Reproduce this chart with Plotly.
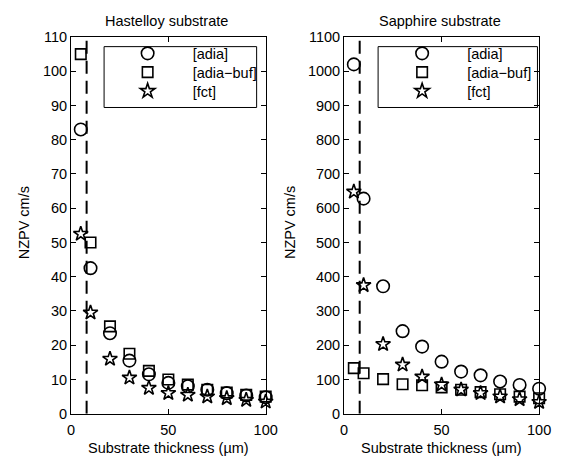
import plotly.graph_objects as go

thickness = [5, 10, 20, 30, 40, 50, 60, 70, 80, 90, 100]

hast_adia = [83, 42.5, 23.5, 15.5, 11.5, 9, 8, 7, 6, 5.3, 4.8]
hast_adia_buf = [105, 50, 25.5, 17.5, 12.5, 10, 8.5, 7, 6.2, 5.5, 5]
hast_fct = [52.5, 29.5, 16, 10.5, 7.5, 6, 5.5, 5, 4.5, 4, 3.5]

sapp_adia = [1020, 628, 372, 241, 196, 152, 123, 112, 94, 84, 73]
sapp_adia_buf = [133, 118, 101, 86, 83, 77, 70, 63, 57, 50, 45]
sapp_fct = [648, 375, 203, 143, 108, 85, 70, 60, 50, 42, 34]

threshold_x = 8
hast_ymax = 110
sapp_ymax = 1100

series_names = ["[adia]", "[adia\u2212buf]", "[fct]"]
titles = ["Hastelloy substrate", "Sapphire substrate"]
x_label = "Substrate thickness (\u00b5m)"
y_label = "NZPV cm/s"

symbols = ["circle-open", "square-open", "star-open"]
sizes = [12.5, 10.5, 11]

W, H = 565, 470
FS = 14.5
def px(v):
    return v / W
def py(v):
    return 1 - v / H

font = dict(family="Liberation Sans, Arial, sans-serif", color="black")

fig = go.Figure()

hast = [hast_adia, hast_adia_buf, hast_fct]
sapp = [sapp_adia, sapp_adia_buf, sapp_fct]

dash_line = dict(color="black", width=2, dash="13px,7px")
fig.add_trace(go.Scatter(x=[threshold_x, threshold_x], y=[0, hast_ymax], mode="lines",
                         line=dash_line, showlegend=False, xaxis="x", yaxis="y", hoverinfo="skip"))
fig.add_trace(go.Scatter(x=[threshold_x, threshold_x], y=[0, sapp_ymax], mode="lines",
                         line=dash_line, showlegend=False, xaxis="x2", yaxis="y2", hoverinfo="skip"))

legend_rows = [47, 66.5, 86]
legend_marker_x = [146.5, 429]
ITEMW = 80
legends = {}
k = 0
for panel, (data, xa, ya) in enumerate([(hast, "x", "y"), (sapp, "x2", "y2")]):
    for i, (name, sym, sz, ys) in enumerate(zip(series_names, symbols, sizes, data)):
        k += 1
        lname = "legend" if k == 1 else f"legend{k}"
        fig.add_trace(go.Scatter(x=thickness, y=ys, mode="markers", name=name,
                                 marker=dict(symbol=sym, size=sz, color="black",
                                             line=dict(width=1.6, color="black")),
                                 xaxis=xa, yaxis=ya, legend=lname, cliponaxis=False))
        legends[lname] = dict(x=px(legend_marker_x[panel] - ITEMW / 2 - 5), y=py(legend_rows[i]),
                              xanchor="left", yanchor="middle", itemwidth=ITEMW,
                              bgcolor="rgba(0,0,0,0)", borderwidth=0,
                              font=dict(size=FS, **font))

axis_common = dict(showgrid=False, zeroline=False, showline=True, linecolor="black",
                   linewidth=1, mirror="ticks", ticks="inside", ticklen=5,
                   tickcolor="black", tickfont=dict(size=FS, **font))

y_dom = [py(420), py(30)]
fig.update_layout(
    width=W, height=H, margin=dict(l=0, r=0, t=0, b=0),
    paper_bgcolor="white", plot_bgcolor="white", font=dict(size=FS, **font),
    showlegend=True,
    xaxis=dict(domain=[px(69), px(269.3)], range=[0, 100], tickvals=[0, 50, 100], anchor="y",
               ticklabelstandoff=3, **axis_common),
    yaxis=dict(domain=y_dom, range=[0, hast_ymax], dtick=10, anchor="x", **axis_common),
    xaxis2=dict(domain=[px(350), px(550.7)], range=[0, 100], tickvals=[0, 50, 100], anchor="y2",
                ticklabelstandoff=3, **axis_common),
    yaxis2=dict(domain=y_dom, range=[0, sapp_ymax], dtick=100, anchor="x2", **axis_common),
    shapes=[
        dict(type="rect", xref="paper", yref="paper", x0=px(103), x1=px(260), y0=py(103), y1=py(40),
             line=dict(color="black", width=1), fillcolor="white", layer="below"),
        dict(type="rect", xref="paper", yref="paper", x0=px(385), x1=px(549), y0=py(103), y1=py(40),
             line=dict(color="black", width=1), fillcolor="white", layer="below"),
    ],
    annotations=[
        dict(text=titles[0], x=px(167.5), y=py(13), xref="paper", yref="paper",
             xanchor="center", yanchor="middle", showarrow=False, font=dict(size=FS, **font)),
        dict(text=titles[1], x=px(449), y=py(13), xref="paper", yref="paper",
             xanchor="center", yanchor="middle", showarrow=False, font=dict(size=FS, **font)),
        dict(text=x_label, x=px(169), y=py(455), xref="paper", yref="paper",
             xanchor="center", yanchor="middle", showarrow=False, font=dict(size=FS, **font)),
        dict(text=x_label, x=px(450.5), y=py(455), xref="paper", yref="paper",
             xanchor="center", yanchor="middle", showarrow=False, font=dict(size=FS, **font)),
        dict(text=y_label, x=px(21.5), y=py(222), xref="paper", yref="paper", textangle=-90,
             xanchor="center", yanchor="middle", showarrow=False, font=dict(size=FS, **font)),
        dict(text=y_label, x=px(295), y=py(222), xref="paper", yref="paper", textangle=-90,
             xanchor="center", yanchor="middle", showarrow=False, font=dict(size=FS, **font)),
    ],
    **legends,
)

fig.write_html("out.html")
